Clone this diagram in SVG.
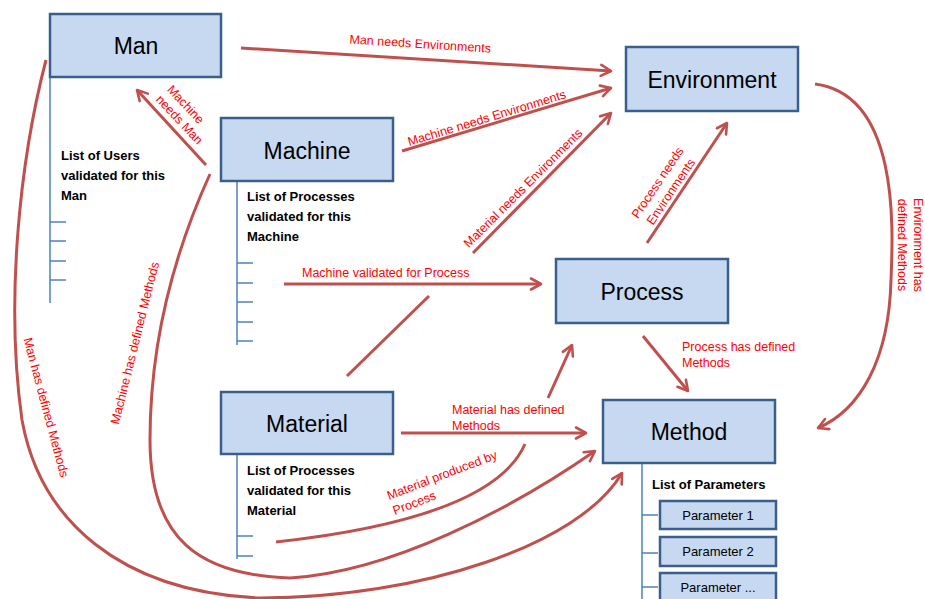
<svg xmlns="http://www.w3.org/2000/svg" width="925" height="599" viewBox="0 0 925 599">
  <style>
    .box { fill: #C6D9F1; stroke: #3A5F8C; stroke-width: 2.5; }
    .title { font-family: "Liberation Sans", Arial, sans-serif; font-size: 23px; fill: #000; text-anchor: middle; }
    .list { font-family: "Liberation Sans", Arial, sans-serif; font-size: 13px; font-weight: bold; fill: #000; }
    .param { font-family: "Liberation Sans", Arial, sans-serif; font-size: 13px; fill: #000; text-anchor: middle; }
    .tree { stroke: #4F81BD; stroke-width: 1.5; fill: none; }
    .link { stroke: #C0504D; stroke-width: 3; fill: none; }
    .arrow { marker-end: url(#head); }
    .lbl { font-family: "Liberation Sans", Arial, sans-serif; font-size: 12.5px; fill: #FF0000; }
  </style>
  <defs>
    <marker id="head" viewBox="0 0 14 14" refX="12" refY="7" markerWidth="14" markerHeight="14" markerUnits="userSpaceOnUse" orient="auto">
      <path d="M2,1.5 L12,7 L2,12.5" fill="none" stroke="#C0504D" stroke-width="2.6" stroke-linecap="round" stroke-linejoin="round"/>
    </marker>
  </defs>

  <rect width="925" height="599" fill="#fff"/>

  <!-- connectors -->
  <g id="connectors">
    <!-- Man needs Environments -->
    <line class="link arrow" x1="241" y1="48" x2="611" y2="71"/>
    <text class="lbl" text-anchor="middle" transform="translate(420,48) rotate(3.7)">Man needs Environments</text>

    <!-- Machine needs Man -->
    <line class="link arrow" x1="206" y1="165" x2="137" y2="90"/>
    <text class="lbl" text-anchor="middle" transform="translate(182.6,107.2) rotate(47)"><tspan x="0" y="0">Machine</tspan><tspan x="7" y="15">needs Man</tspan></text>

    <!-- Machine needs Environments -->
    <line class="link arrow" x1="402" y1="151" x2="611" y2="88"/>
    <text class="lbl" text-anchor="middle" transform="translate(488,122) rotate(-17)">Machine needs Environments</text>

    <!-- Material needs Environments (interrupted where it crosses the process link) -->
    <line class="link" x1="347" y1="376" x2="429" y2="296"/>
    <line class="link arrow" x1="473" y1="253" x2="611" y2="113"/>
    <text class="lbl" text-anchor="middle" transform="translate(526,191) rotate(-45)">Material needs Environments</text>

    <!-- Machine validated for Process -->
    <line class="link arrow" x1="284" y1="284" x2="541" y2="284"/>
    <text class="lbl" x="302" y="277">Machine validated for Process</text>

    <!-- Process needs Environments -->
    <line class="link arrow" x1="647" y1="243" x2="727" y2="123"/>
    <text class="lbl" text-anchor="middle" transform="translate(661,185) rotate(-56)"><tspan x="0" y="0">Process needs</tspan><tspan x="0" y="16">Environments</tspan></text>

    <!-- Process has defined Methods -->
    <line class="link arrow" x1="643" y1="336" x2="688" y2="391"/>
    <text class="lbl" x="682" y="351">Process has defined</text>
    <text class="lbl" x="682" y="367">Methods</text>

    <!-- Environment has defined Methods -->
    <path class="link arrow" d="M815 84 C900 95 893 230 891 280 C889 360 860 410 818 428"/>
    <text class="lbl" text-anchor="middle" transform="translate(914,245) rotate(90)"><tspan x="0" y="0">Environment has</tspan><tspan x="0" y="16">defined Methods</tspan></text>

    <!-- Material has defined Methods -->
    <line class="link arrow" x1="401" y1="433" x2="586" y2="433"/>
    <text class="lbl" x="452" y="414">Material has defined</text>
    <text class="lbl" x="452" y="430">Methods</text>

    <!-- Material produced by Process -->
    <path class="link" d="M276 542 C430 525 505 490 525 444"/>
    <line class="link arrow" x1="548" y1="398" x2="572" y2="345"/>
    <text class="lbl" transform="translate(389,500) rotate(-21)"><tspan x="0" y="0">Material produced by</tspan><tspan x="0" y="16">Process</tspan></text>

    <!-- Man has defined Methods -->
    <path class="link arrow" d="M46 60 C20 160 5 300 22 420 C40 520 120 592 260 598 C420 598 580 545 622 473"/>
    <text class="lbl" text-anchor="middle" transform="translate(42,408.5) rotate(75)">Man has defined Methods</text>

    <!-- Machine has defined Methods -->
    <path class="link arrow" d="M210 174 C180 240 150 330 150 440 C150 540 200 575 290 578 C390 572 510 510 595 451"/>
    <text class="lbl" text-anchor="middle" transform="translate(139,344) rotate(-76)">Machine has defined Methods</text>
  </g>

  <!-- Man -->
  <g id="man">
    <path class="tree" d="M50 78 V303 M50 222 H66 M50 241 H66 M50 261 H66 M50 280 H66"/>
    <rect class="box" x="50" y="14" width="171" height="63"/>
    <text class="title" x="136" y="54">Man</text>
    <text class="list" x="61" y="160">List of Users</text>
    <text class="list" x="61" y="180">validated for this</text>
    <text class="list" x="61" y="200">Man</text>
  </g>

  <!-- Machine -->
  <g id="machine">
    <path class="tree" d="M237 181 V345 M237 263 H253 M237 283 H253 M237 302 H253 M237 322 H253 M237 341 H253"/>
    <rect class="box" x="221" y="118" width="172" height="63"/>
    <text class="title" x="307" y="159">Machine</text>
    <text class="list" x="247" y="201">List of Processes</text>
    <text class="list" x="247" y="221">validated for this</text>
    <text class="list" x="247" y="241">Machine</text>
  </g>

  <!-- Environment -->
  <g id="environment">
    <rect class="box" x="626" y="47" width="172" height="64"/>
    <text class="title" x="712" y="88">Environment</text>
  </g>

  <!-- Process -->
  <g id="process">
    <rect class="box" x="556" y="259" width="172" height="64"/>
    <text class="title" x="642" y="300">Process</text>
  </g>

  <!-- Material -->
  <g id="material">
    <path class="tree" d="M237 454 V559 M237 536 H253 M237 556 H253"/>
    <rect class="box" x="221" y="392" width="172" height="62"/>
    <text class="title" x="307" y="432">Material</text>
    <text class="list" x="247" y="475">List of Processes</text>
    <text class="list" x="247" y="495">validated for this</text>
    <text class="list" x="247" y="515">Material</text>
  </g>

  <!-- Method -->
  <g id="method">
    <path class="tree" d="M642 463 V599 M642 515 H658 M642 553 H658 M642 587 H658"/>
    <rect class="box" x="603" y="400" width="172" height="63"/>
    <text class="title" x="689" y="440">Method</text>
    <text class="list" x="652" y="489">List of Parameters</text>
  </g>

  <g id="parameter-1">
    <rect class="box" x="660" y="501" width="116" height="28"/>
    <text class="param" x="718" y="520">Parameter 1</text>
  </g>
  <g id="parameter-2">
    <rect class="box" x="660" y="537" width="116" height="29"/>
    <text class="param" x="718" y="556">Parameter 2</text>
  </g>
  <g id="parameter-n">
    <rect class="box" x="660" y="573" width="116" height="30"/>
    <text class="param" x="718" y="592">Parameter ...</text>
  </g>
</svg>
